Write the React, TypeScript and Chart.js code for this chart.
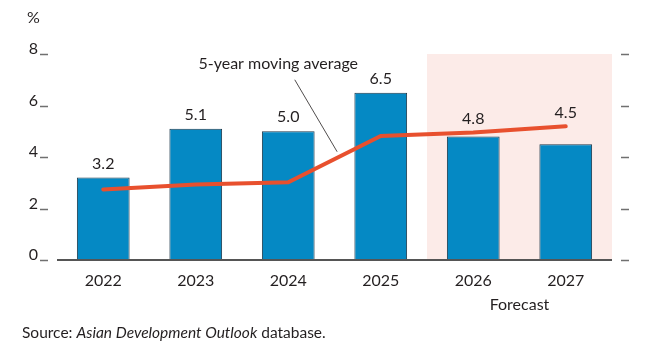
import React, { useEffect, useRef } from "react";
import { Chart, registerables } from "chart.js";

Chart.register(...registerables);

const categories = ["2022", "2023", "2024", "2025", "2026", "2027"];
const growth = [3.2, 5.1, 5.0, 6.5, 4.8, 4.5];
const movingAverage = [2.74, 2.93, 3.02, 4.82, 4.95, 5.19];
const yTicks = [0, 2, 4, 6, 8];
const forecastStartIndex = 4;
const unitLabel = "%";
const annotationText = "5-year moving average";
const forecastLabel = "Forecast";
const sourcePrefix = "Source: ";
const sourceItalic = "Asian Development Outlook";
const sourceSuffix = " database.";

const FONT = "Lato, 'Open Sans', sans-serif";
const TEXT = "#231f20";

const decorations = {
  id: "decorations",
  beforeDatasetsDraw(chart: any) {
    const { ctx, chartArea, scales } = chart;
    const x = scales.x;
    const half = (x.getPixelForValue(1) - x.getPixelForValue(0)) / 2;
    const left = x.getPixelForValue(forecastStartIndex) - half;
    ctx.save();
    ctx.fillStyle = "#fcebe8";
    ctx.fillRect(left, chartArea.top, chartArea.right - left, chartArea.bottom - chartArea.top);
    ctx.restore();
  },
  afterDatasetsDraw(chart: any) {
    const { ctx, chartArea, scales } = chart;
    const x = scales.x;
    const y = scales.y;
    ctx.save();
    // baseline
    ctx.strokeStyle = "#555555";
    ctx.lineWidth = 2;
    ctx.beginPath();
    ctx.moveTo(chartArea.left, y.getPixelForValue(0));
    ctx.lineTo(chartArea.right, y.getPixelForValue(0));
    ctx.stroke();
    // tick dashes
    ctx.strokeStyle = "#707070";
    ctx.lineWidth = 1.5;
    yTicks.forEach((t) => {
      const py = Math.round(y.getPixelForValue(t)) + 0.5;
      ctx.beginPath();
      ctx.moveTo(chartArea.left - 17, py);
      ctx.lineTo(chartArea.left - 9, py);
      ctx.moveTo(chartArea.right + 9, py);
      ctx.lineTo(chartArea.right + 17, py);
      ctx.stroke();
    });
    // value labels
    ctx.fillStyle = TEXT;
    ctx.font = `16px ${FONT}`;
    ctx.textAlign = "center";
    ctx.textBaseline = "middle";
    growth.forEach((v, i) => {
      const px = x.getPixelForValue(i);
      const top = Math.min(y.getPixelForValue(v), y.getPixelForValue(movingAverage[i]));
      ctx.fillText(v.toFixed(1), px, top - 14);
    });
    // annotation
    const ax = x.getPixelForValue(2) - 10;
    ctx.fillText(annotationText, ax, y.getPixelForValue(7.6));
    const sx = x.getPixelForValue(2) + 6.5;
    const sy = y.getPixelForValue(7.0);
    const t = 0.55;
    const ex = x.getPixelForValue(2) + (x.getPixelForValue(3) - x.getPixelForValue(2)) * t - 2;
    const ey =
      y.getPixelForValue(movingAverage[2] + (movingAverage[3] - movingAverage[2]) * t) - 5;
    ctx.strokeStyle = "#231f20";
    ctx.lineWidth = 0.8;
    ctx.beginPath();
    ctx.moveTo(sx, sy);
    ctx.lineTo(ex, ey);
    ctx.stroke();
    // forecast label
    const half = (x.getPixelForValue(1) - x.getPixelForValue(0)) / 2;
    const fl = x.getPixelForValue(forecastStartIndex) - half;
    ctx.fillText(forecastLabel, (fl + chartArea.right) / 2, 305);
    // unit
    ctx.textAlign = "left";
    ctx.fillText(unitLabel, 27, 18);
    // source
    let cx = 22;
    const sy2 = 333;
    ctx.font = `15.5px ${FONT}`;
    ctx.fillText(sourcePrefix, cx, sy2);
    cx += ctx.measureText(sourcePrefix).width;
    ctx.font = `italic 15.5px ${FONT}`;
    ctx.fillText(sourceItalic, cx, sy2);
    cx += ctx.measureText(sourceItalic).width;
    ctx.font = `15.5px ${FONT}`;
    ctx.fillText(sourceSuffix, cx, sy2);
    ctx.restore();
  },
};

export default function App() {
  const ref = useRef<HTMLCanvasElement | null>(null);
  useEffect(() => {
    if (!ref.current) return;
    const chart = new Chart(ref.current, {
      type: "bar",
      data: {
        labels: categories,
        datasets: [
          {
            type: "line",
            label: "5-year moving average",
            data: movingAverage,
            borderColor: "#e8502e",
            borderWidth: 4,
            pointRadius: 0,
            tension: 0,
            borderCapStyle: "round",
            order: 0,
            yAxisID: "y",
          } as any,
          {
            type: "bar",
            label: "GDP growth",
            data: growth,
            backgroundColor: "#0589c4",
            borderColor: "#1e3a4c",
            borderWidth: 1,
            borderSkipped: false,
            barPercentage: 0.57,
            categoryPercentage: 1,
            order: 1,
            yAxisID: "y",
          },
        ],
      },
      options: {
        responsive: false,
        animation: false,
        events: [],
        layout: { padding: { top: 54, left: 0, right: 0, bottom: 0 } },
        plugins: { legend: { display: false }, tooltip: { enabled: false } },
        scales: {
          x: {
            grid: { display: false },
            border: { display: false },
            ticks: { color: TEXT, font: { family: FONT, size: 16 }, padding: 3, maxRotation: 0 },
            afterFit: (s: any) => {
              s.height = 102;
            },
          },
          y: {
            position: "left",
            min: 0,
            max: 8,
            grid: { display: false },
            border: { display: false },
            ticks: {
              stepSize: 2,
              color: TEXT,
              font: { family: FONT, size: 16 },
              padding: 11,
              labelOffset: -5,
            },
            afterFit: (s: any) => {
              s.width = 57;
            },
          },
          y2: {
            position: "right",
            min: 0,
            max: 8,
            grid: { display: false },
            border: { display: false },
            ticks: { display: false },
            afterFit: (s: any) => {
              s.width = 34;
            },
          },
        },
      },
      plugins: [decorations],
    });
    return () => chart.destroy();
  }, []);
  return (
    <div style={{ position: "absolute", left: 0, top: 0, width: 646, height: 362, background: "#fff" }}>
      <canvas ref={ref} width={646} height={362} style={{ width: 646, height: 362, display: "block" }} />
    </div>
  );
}
